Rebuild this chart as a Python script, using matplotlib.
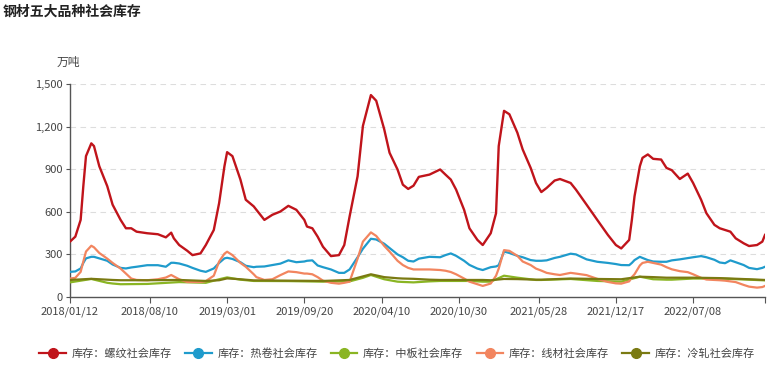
import matplotlib
matplotlib.use("Agg")
import matplotlib.pyplot as plt
import matplotlib.dates as mdates
from matplotlib.lines import Line2D
from matplotlib.ticker import FuncFormatter
import pandas as pd

plt.rcParams['font.family'] = ['Noto Sans CJK SC', 'DejaVu Sans']

title = "钢材五大品种社会库存"
unit = "万吨"
series_names = ["库存：螺纹社会库存", "库存：热卷社会库存", "库存：中板社会库存",
                "库存：线材社会库存", "库存：冷轧社会库存"]

dates_main = [
    "2018-01-12", "2018-01-26", "2018-02-09", "2018-02-16", "2018-02-23", "2018-03-09", "2018-03-16",
    "2018-03-30", "2018-04-20", "2018-05-04", "2018-05-25", "2018-06-08", "2018-06-22", "2018-07-06",
    "2018-08-03", "2018-08-31", "2018-09-21", "2018-10-05", "2018-10-12", "2018-10-26", "2018-11-16",
    "2018-11-30", "2018-12-21", "2019-01-04", "2019-01-25", "2019-02-08", "2019-02-22", "2019-03-01",
    "2019-03-15", "2019-04-05", "2019-04-19", "2019-05-10", "2019-05-17", "2019-06-07", "2019-06-28",
    "2019-07-19", "2019-08-09", "2019-08-30", "2019-09-20", "2019-09-27", "2019-10-11", "2019-10-25",
    "2019-11-08", "2019-11-29", "2019-12-20", "2020-01-03", "2020-01-17", "2020-02-07", "2020-02-21",
    "2020-03-13", "2020-03-27", "2020-04-17", "2020-05-01", "2020-05-22", "2020-06-05", "2020-06-19",
    "2020-07-03", "2020-07-17", "2020-08-14", "2020-09-11", "2020-09-25", "2020-10-09", "2020-10-23",
    "2020-11-13", "2020-11-27", "2020-12-18", "2021-01-01", "2021-01-22", "2021-02-05", "2021-02-12",
    "2021-02-26", "2021-03-12", "2021-04-02", "2021-04-16", "2021-05-07", "2021-05-21", "2021-06-04",
    "2021-06-18", "2021-07-09", "2021-07-23", "2021-08-20", "2021-09-03", "2021-10-01", "2021-10-29",
    "2021-11-26", "2021-12-17", "2021-12-31", "2022-01-21", "2022-01-28", "2022-02-04", "2022-02-18",
    "2022-02-25", "2022-03-11", "2022-03-25", "2022-04-15", "2022-04-29", "2022-05-13", "2022-06-03",
    "2022-06-24", "2022-07-08", "2022-07-29", "2022-08-12", "2022-09-02", "2022-09-16", "2022-09-30",
    "2022-10-14", "2022-10-28", "2022-11-18", "2022-12-02", "2022-12-23", "2023-01-06", "2023-01-13",
]

rebar = [
    390, 425, 543, 780, 992, 1082, 1063,
    921, 780, 650, 543, 484, 484, 460,
    449, 442, 420, 453, 413, 366, 326,
    295, 307, 366, 472, 661, 921, 1020,
    992, 827, 685, 638, 614, 543, 579,
    602, 642, 614, 543, 496, 484, 425,
    354, 288, 295, 366, 567, 850, 1205,
    1422, 1382, 1181, 1016, 898, 791, 761,
    784, 846, 862, 898, 862, 827, 756,
    614, 484, 402, 366, 449, 590, 1063,
    1311, 1287, 1157, 1039, 909, 803, 739,
    768, 820, 831, 803, 756, 650, 543,
    437, 366, 342, 402, 543, 709, 921,
    980, 1004, 973, 968, 909, 893, 831,
    869, 803, 685, 590, 508, 484, 472,
    460, 413, 378, 359, 366, 390, 437,
]

hot_coil = [
    177, 180, 201, 240, 272, 283, 283,
    272, 255, 229, 205, 201, 208, 213,
    224, 224, 213, 241, 241, 236, 220,
    205, 185, 177, 201, 240, 272, 276,
    268, 245, 220, 210, 213, 215, 225,
    235, 258, 245, 250, 255, 258, 222,
    210, 194, 170, 170, 194, 280, 340,
    410, 405, 375, 345, 300, 280, 255,
    250, 270, 283, 280, 295, 307, 290,
    255, 226, 200, 190, 210, 215, 224,
    320, 310, 290, 280, 260, 255, 255,
    258, 275, 283, 305, 300, 265, 248,
    240, 232, 225, 224, 240, 260, 283,
    275, 260, 250, 248, 248, 258, 265,
    274, 280, 288, 280, 262, 243, 238,
    258, 245, 225, 205, 196, 205, 213,
]

wire_rod = [
    130, 135, 177, 250, 320, 361, 350,
    310, 270, 240, 200, 165, 130, 120,
    118, 125, 137, 155, 145, 125, 106,
    106, 106, 112, 150, 250, 305, 319,
    295, 240, 213, 160, 140, 120, 125,
    154, 180, 175, 165, 165, 160, 140,
    115, 100, 94, 100, 108, 270, 390,
    455, 430, 360, 320, 255, 225, 205,
    194, 194, 194, 190, 185, 176, 160,
    130, 108, 90, 78, 95, 150, 200,
    330, 325, 290, 250, 225, 200, 186,
    170, 160, 155, 170, 165, 154, 128,
    106, 96, 94, 110, 140, 160, 222,
    240, 248, 240, 228, 210, 195, 182,
    175, 160, 135, 123, 120, 118, 115,
    110, 105, 85, 73, 66, 70, 78,
]

dates_flat = [
    "2018-01-12", "2018-03-09", "2018-04-20", "2018-05-04", "2018-05-25", "2018-08-03", "2018-10-26",
    "2019-01-04", "2019-02-08", "2019-03-01", "2019-04-05", "2019-05-10", "2019-08-09", "2019-11-08",
    "2020-01-17", "2020-02-21", "2020-03-13", "2020-04-17", "2020-05-22", "2020-06-05", "2020-07-03",
    "2020-08-14", "2020-09-11", "2020-10-23", "2020-11-27", "2021-01-01", "2021-01-22", "2021-02-26",
    "2021-04-02", "2021-05-21", "2021-06-04", "2021-08-20", "2021-10-29", "2021-12-31", "2022-02-18",
    "2022-03-25", "2022-04-29", "2022-05-13", "2022-07-08", "2022-09-16", "2022-12-02", "2023-01-13",
]

plate = [
    103, 127, 100, 95, 90, 92, 105,
    100, 125, 138, 122, 113, 112, 108,
    110, 135, 155, 125, 108, 106, 103,
    110, 113, 113, 113, 108, 108, 150,
    136, 120, 120, 127, 113, 108, 143,
    125, 122, 122, 130, 130, 122, 117,
]

cold_rolled = [
    120, 128, 122, 120, 118, 118, 120,
    113, 118, 131, 125, 117, 115, 113,
    120, 145, 160, 140, 132, 130, 128,
    122, 120, 120, 120, 120, 118, 127,
    126, 122, 122, 130, 127, 125, 143,
    140, 136, 136, 136, 133, 125, 120,
]

x_tick_labels = ["2018/01/12", "2018/08/10", "2019/03/01", "2019/09/20", "2020/04/10",
                 "2020/10/30", "2021/05/28", "2021/12/17", "2022/07/08"]
y_ticks = [0, 300, 600, 900, 1200, 1500]

colors = ["#c0141b", "#1f9bcc", "#8ab523", "#f2855f", "#7a7a12"]

fig = plt.figure(figsize=(7.72, 3.74), dpi=100)
ax = fig.add_axes([70 / 772, 1 - 297 / 374, 695 / 772, 213 / 374])

dm = pd.to_datetime(dates_main)
df = pd.to_datetime(dates_flat)

ax.plot(dm, rebar, color=colors[0], lw=1.7, zorder=3)
ax.plot(dm, hot_coil, color=colors[1], lw=1.6, zorder=3)
ax.plot(df, plate, color=colors[2], lw=1.6, zorder=3)
ax.plot(dm, wire_rod, color=colors[3], lw=1.6, zorder=3)
ax.plot(df, cold_rolled, color=colors[4], lw=1.6, zorder=3)

ax.set_ylim(0, 1500)
ax.set_xlim(dm[0], dm[-1])
ax.set_yticks(y_ticks)
ax.yaxis.set_major_formatter(FuncFormatter(lambda v, p: f"{int(v):,}"))
ax.set_xticks(pd.to_datetime(x_tick_labels, format="%Y/%m/%d").tolist() + [dm[-1]])
ax.set_xticklabels(x_tick_labels + [""])

for y in y_ticks[1:]:
    ax.axhline(y, color="#dddddd", lw=0.8, ls=(0, (5, 4)), zorder=1)

for s in ["top", "right"]:
    ax.spines[s].set_visible(False)
for s in ["left", "bottom"]:
    ax.spines[s].set_color("#555555")
    ax.spines[s].set_linewidth(1.0)

ax.tick_params(axis="x", length=4, color="#555555", labelsize=8, labelcolor="#444444", pad=3)
ax.tick_params(axis="y", length=3, color="#555555", labelsize=8, labelcolor="#444444", pad=2)

fig.text(3 / 772, 1 - 12 / 374, title, fontsize=10, fontweight="bold", color="#222222",
         ha="left", va="center")
fig.text(68 / 772, 1 - 62 / 374, unit, fontsize=8.5, color="#444444", ha="center", va="center")

handles = [Line2D([0], [0], color=c, lw=1.6, marker="o", markersize=7) for c in colors]
fig.legend(handles, series_names, loc="center", bbox_to_anchor=(397 / 772, 1 - 354 / 374),
           ncol=5, frameon=False, fontsize=8, handlelength=2.4, handletextpad=0.5,
           columnspacing=1.2, labelcolor="#444444")

fig.savefig("out.png", dpi=100)
